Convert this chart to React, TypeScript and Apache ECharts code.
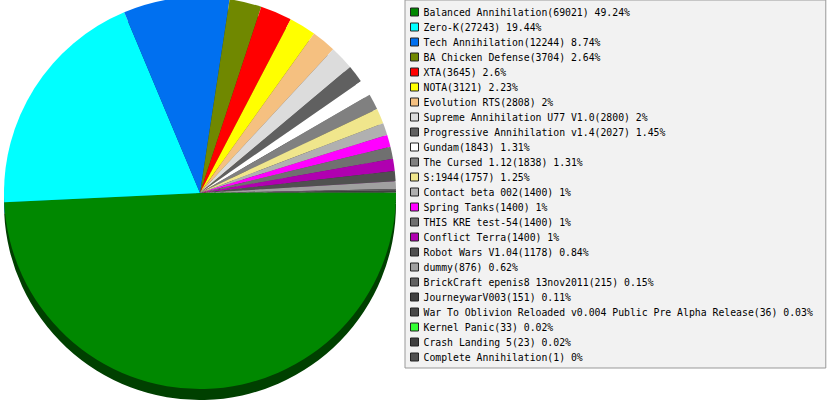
import React, { useEffect, useRef } from "react";
import * as echarts from "echarts";

const names = [
  "Balanced Annihilation",
  "Zero-K",
  "Tech Annihilation",
  "BA Chicken Defense",
  "XTA",
  "NOTA",
  "Evolution RTS",
  "Supreme Annihilation U77 V1.0",
  "Progressive Annihilation v1.4",
  "Gundam",
  "The Cursed 1.12",
  "S:1944",
  "Contact beta 002",
  "Spring Tanks",
  "THIS KRE test-54",
  "Conflict Terra",
  "Robot Wars V1.04",
  "dummy",
  "BrickCraft epenis8 13nov2011",
  "JourneywarV003",
  "War To Oblivion Reloaded v0.004 Public Pre Alpha Release",
  "Kernel Panic",
  "Crash Landing 5",
  "Complete Annihilation",
];

const values = [
  69021, 27243, 12244, 3704, 3645, 3121, 2808, 2800, 2027, 1843, 1838, 1757,
  1400, 1400, 1400, 1400, 1178, 876, 215, 151, 36, 33, 23, 1,
];

const percents = [
  "49.24", "19.44", "8.74", "2.64", "2.6", "2.23", "2", "2", "1.45", "1.31",
  "1.31", "1.25", "1", "1", "1", "1", "0.84", "0.62", "0.15", "0.11", "0.03",
  "0.02", "0.02", "0",
];

const colors = [
  "#008800", "#00ffff", "#0070f0", "#708800", "#ff0000", "#ffff00",
  "#f5c080", "#dcdcdc", "#606060", "#ffffff", "#808080", "#f0e68c",
  "#b0b0b0", "#ff00ff", "#707070", "#b000b0", "#505050", "#a0a0a0",
  "#606060", "#404040", "#484848", "#33ff33", "#404040", "#505050",
];

function darken(hex: string, f: number): string {
  const n = parseInt(hex.slice(1), 16);
  const r = Math.round(((n >> 16) & 255) * f);
  const g = Math.round(((n >> 8) & 255) * f);
  const b = Math.round((n & 255) * f);
  return `rgb(${r},${g},${b})`;
}

export default function App() {
  const ref = useRef<HTMLDivElement>(null);
  useEffect(() => {
    if (!ref.current) return;
    const chart = echarts.init(ref.current, undefined, { renderer: "svg" });
    const mainData = names.map((n, i) => ({
      name: n,
      value: values[i],
      itemStyle: { color: colors[i] },
    }));
    const shadowData = names.map((n, i) => ({
      name: n,
      value: values[i],
      itemStyle: { color: darken(colors[i], 0.47) },
    }));
    const R = 196;
    chart.setOption({
      animation: false,
      backgroundColor: "#ffffff",
      legend: {
        orient: "vertical",
        left: 405,
        top: 0,
        padding: [4.5, 13, 3.5, 5],
        itemGap: 0,
        itemWidth: 8,
        itemHeight: 8,
        itemTextGap: 5,
        icon: "rect",
        selectedMode: false,
        backgroundColor: "#f2f2f2",
        borderColor: "#999999",
        borderWidth: 1,
        borderRadius: 0,
        itemStyle: { borderColor: "#222222", borderWidth: 1 },
        data: names,
        formatter: (name: string) => {
          const i = names.indexOf(name);
          return `${name}(${values[i]}) ${percents[i]}%`;
        },
        textStyle: {
          fontFamily: "DejaVu Sans Mono",
          fontSize: 9.8,
          color: "#000000",
          lineHeight: 15,
        },
      },
      series: [
        {
          type: "pie",
          name: "main",
          z: 3,
          center: [200, 193],
          radius: [0, R],
          startAngle: 0,
          clockwise: true,
          silent: true,
          label: { show: false },
          labelLine: { show: false },
          emphasis: { disabled: true },
          itemStyle: { borderWidth: 0 },
          data: mainData,
        },
        {
          type: "pie",
          name: "depth",
          z: 1,
          center: [200, 204],
          radius: [0, R],
          startAngle: 0,
          clockwise: true,
          silent: true,
          label: { show: false },
          labelLine: { show: false },
          emphasis: { disabled: true },
          itemStyle: { borderWidth: 0 },
          data: shadowData,
        },
      ],
    });
    return () => chart.dispose();
  }, []);
  return (
    <div
      ref={ref}
      style={{ position: "absolute", left: 0, top: 0, width: 833, height: 400 }}
    />
  );
}
